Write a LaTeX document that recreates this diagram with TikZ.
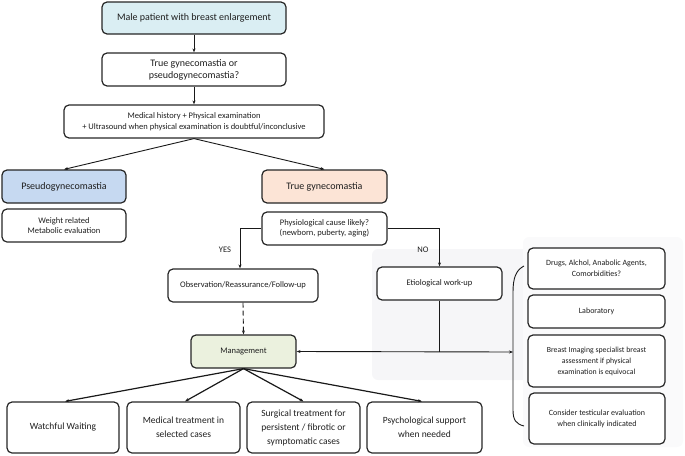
\documentclass[tikz,border=0pt]{standalone}
\usepackage{fontspec}
\setmainfont{Carlito}
\usetikzlibrary{arrows.meta}
\definecolor{txt}{HTML}{1E1E1E}
\definecolor{cblue}{HTML}{DAEEF3}
\definecolor{cpseudo}{HTML}{C6D9F1}
\definecolor{cpeach}{HTML}{FCE4D6}
\definecolor{cgreen}{HTML}{EBF1DE}
\definecolor{gA}{HTML}{F6F6F8}
\definecolor{gB}{HTML}{FAFAFB}
\tikzset{
  box/.style={draw=black!85, line width=1.2pt, rounded corners=5pt, align=center,
    text=txt, inner sep=2pt, font=\fontsize{8.5}{10.5}\selectfont},
  big/.style={font=\fontsize{10}{12}\selectfont},
  mid/.style={font=\fontsize{9.5}{14}\selectfont},
  small/.style={font=\fontsize{8}{11}\selectfont},
  conn/.style={draw=black!90, line width=0.9pt, -{Stealth[length=4pt,width=3pt]}},
  conn2/.style={draw=black!90, line width=1.2pt, -{Stealth[length=4pt,width=3pt]}},
  lbl/.style={text=txt, font=\fontsize{8.5}{10}\selectfont}
}
\begin{document}
\begin{tikzpicture}[x=1pt,y=-1pt]
\useasboundingbox (0,0) rectangle (685,455);
% backgrounds
\fill[gA, rounded corners=6pt] (372,249) rectangle (672,380);
\fill[gB, rounded corners=6pt] (523,237) rectangle (683,447);
% boxes
\node[box,big,fill=cblue,minimum width=184pt,minimum height=32pt] (male) at (194,18) {Male patient with breast enlargement};
\node[box,big,minimum width=184pt,minimum height=33pt] (q) at (194,69.5) {True gynecomastia or\\pseudogynecomastia?};
\node[box,minimum width=260pt,minimum height=33pt] (hist) at (194,121.5) {Medical history + Physical examination\\+ Ultrasound when physical examination is doubtful/inconclusive};
\node[box,big,fill=cpseudo,minimum width=124pt,minimum height=33pt] (pseudo) at (64,186.5) {Pseudogynecomastia};
\node[box,minimum width=124pt,minimum height=33pt] (weight) at (64,225.5) {Weight related\\Metabolic evaluation};
\node[box,big,fill=cpeach,minimum width=125pt,minimum height=33pt] (true) at (324.5,186.5) {True gynecomastia};
\node[box,minimum width=125pt,minimum height=33pt] (phys) at (324.5,228.5) {Physiological cause likely?\\(newborn, puberty, aging)};
\node[box,minimum width=150pt,minimum height=33pt] (obs) at (243,285.5) {Observation/Reassurance/Follow-up};
\node[box,fill=white,minimum width=125pt,minimum height=33pt] (etio) at (439.5,283.5) {Etiological work-up};
\node[box,fill=cgreen,minimum width=105pt,minimum height=33pt] (mgmt) at (243.5,351.5) {Management};
\node[box,mid,minimum width=112pt,minimum height=51pt] (watch) at (63,427.5) {Watchful Waiting};
\node[box,mid,minimum width=113pt,minimum height=51pt] (med) at (183.5,427.5) {Medical treatment in\\selected cases};
\node[box,mid,minimum width=113pt,minimum height=51pt] (surg) at (303.5,427.5) {Surgical treatment for\\persistent / fibrotic or\\symptomatic cases};
\node[box,mid,minimum width=115pt,minimum height=51pt] (psych) at (424.5,427.5) {Psychological support\\when needed};
\node[box,small,fill=white,minimum width=137pt,minimum height=41pt] (drugs) at (596.5,268.5) {Drugs, Alchol, Anabolic Agents,\\Comorbidities?};
\node[box,small,fill=white,minimum width=137pt,minimum height=33pt] (lab) at (596.5,311.5) {Laboratory};
\node[box,small,fill=white,minimum width=137pt,minimum height=52pt,font=\fontsize{7.8}{11}\selectfont] (breast) at (596.5,361) {Breast Imaging specialist breast\\assessment if physical\\examination is equivocal};
\node[box,small,fill=white,minimum width=136pt,minimum height=51pt] (test) at (597,418.5) {Consider testicular evaluation\\when clinically indicated};
% labels
\node[lbl] (yes) at (225,250) {YES};
\node[lbl] (no) at (423,250) {NO};
% connectors
\draw[conn] (male.south) -- (q.north);
\draw[conn] (q.south) -- (hist.north);
\draw[conn] (hist.south) -- (pseudo.north);
\draw[conn] (hist.south) -- (true.north);
\draw[conn] (phys.west) -| ([xshift=-3pt]obs.north);
\draw[conn] (phys.east) -| (etio.north);
\draw[conn,dash pattern=on 5pt off 3pt] (obs.south) -- (mgmt.north);
% bracket
\coordinate (brk) at (513,352);
\draw[line width=0.9pt, black!90] (524,266) .. controls (516,270) and (513,278) .. (513,292) -- (513,410) .. controls (513,420) and (516,424) .. (524,426);
\draw[line width=0.9pt, black!90, {Stealth[length=4pt,width=3pt]}-{Stealth[length=4pt,width=3pt]}] (mgmt.east) -- (brk);
\draw[line width=0.9pt, black!90] (etio.south) -- (etio.south |- mgmt.east);
% management children
\draw[conn2] (mgmt.south) -- ([xshift=2pt]watch.north);
\draw[conn2] (mgmt.south) -- ([xshift=1.5pt]med.north);
\draw[conn2] (mgmt.south) -- (surg.north);
\draw[conn2] (mgmt.south) -- ([xshift=-2.5pt]psych.north);
\end{tikzpicture}
\end{document}
